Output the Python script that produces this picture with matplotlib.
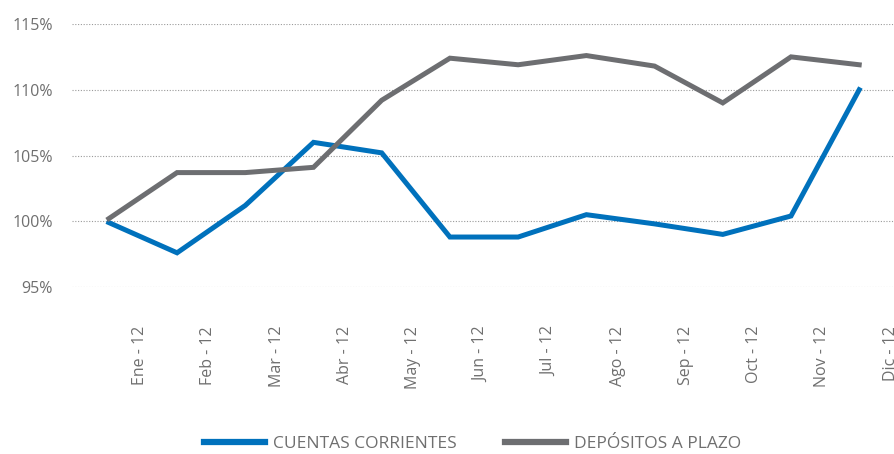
import matplotlib.pyplot as plt
import numpy as np

meses = ["Ene - 12", "Feb - 12", "Mar - 12", "Abr - 12", "May - 12", "Jun - 12",
         "Jul - 12", "Ago - 12", "Sep - 12", "Oct - 12", "Nov - 12", "Dic - 12"]
cuentas_corrientes = [99.9, 97.6, 101.2, 106.0, 105.2, 98.8, 98.8, 100.5, 99.8, 99.0, 100.4, 110.0]
depositos_plazo = [100.2, 103.7, 103.7, 104.1, 109.2, 112.4, 111.9, 112.6, 111.8, 109.0, 112.5, 111.9]
yticks = [95, 100, 105, 110, 115]

azul = "#0071bc"
gris = "#6d6e71"
texto = "#6f6f6f"

plt.rcParams['font.family'] = ['Open Sans', 'DejaVu Sans']

fig = plt.figure(figsize=(8.94, 4.54), dpi=100)
ax = fig.add_axes([72 / 894, 1 - 287 / 454, 1 - 72 / 894, (287 - 24) / 454])

x = np.arange(len(meses))
ax.plot(x, cuentas_corrientes, color=azul, lw=3.6, label="CUENTAS CORRIENTES",
        solid_joinstyle='miter', zorder=3)
ax.plot(x, depositos_plazo, color=gris, lw=3.6, label="DEPÓSITOS A PLAZO",
        solid_joinstyle='miter', zorder=4)

ax.set_xlim(-0.54, 11.51)
ax.set_ylim(95, 115)
ax.set_yticks(yticks)
ax.set_yticklabels([f"{v}%" for v in yticks])
ax.set_xticks(x + 0.46)
ax.set_xticklabels(meses, rotation=90, va='top', ha='center')

ax.grid(axis='y', linestyle=(0, (1, 1.5)), color='#9a9a9a', lw=0.8)
ax.set_axisbelow(True)
for s in ax.spines.values():
    s.set_visible(False)
ax.tick_params(length=0, labelsize=11.5, labelcolor=texto)
ax.tick_params(axis='y', pad=14)
ax.tick_params(axis='x', pad=28)
for lbl in ax.get_xticklabels() + ax.get_yticklabels():
    lbl.set_clip_on(False)

leg = fig.legend(loc='center', bbox_to_anchor=(0.5285, 1 - 444 / 454), ncol=2,
                 frameon=False, fontsize=12.5, handlelength=3.5, handletextpad=0.46,
                 columnspacing=2.8)
for t in leg.get_texts():
    t.set_color(texto)
for h in leg.get_lines():
    h.set_linewidth(4.5)

fig.savefig("out.png", dpi=100)
